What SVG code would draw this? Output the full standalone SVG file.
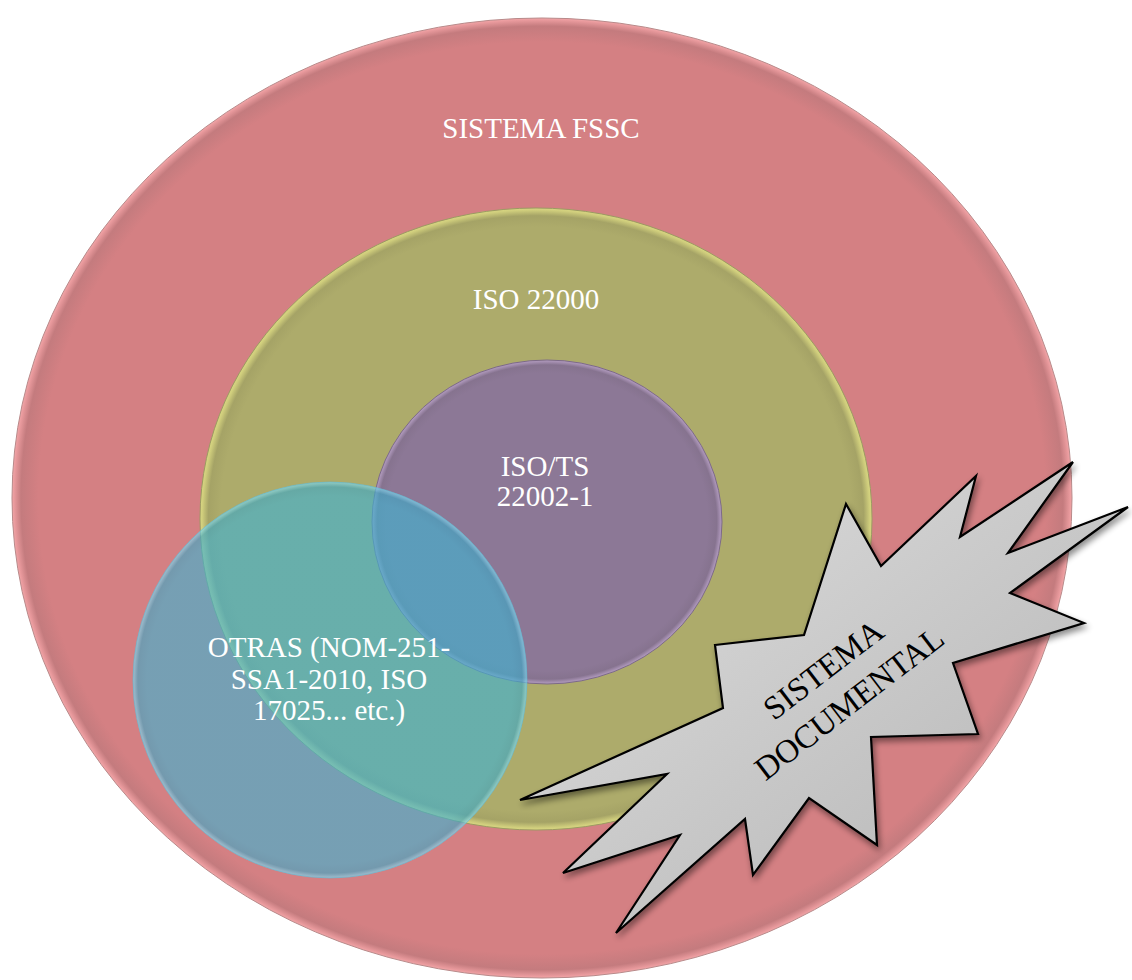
<svg xmlns="http://www.w3.org/2000/svg" width="1132" height="980" viewBox="0 0 1132 980">
<style>
text{font-family:'Liberation Serif','Times New Roman','DejaVu Serif',serif}
.lbl{font-size:29px;fill:#ffffff;text-anchor:middle}
.star-lbl{font-size:33px;fill:#000000;text-anchor:middle}
</style>
<defs>
<radialGradient id="gRed" cx="50%" cy="50%" r="50%">
<stop offset="0" stop-color="#d48083"/>
<stop offset="0.95" stop-color="#d48083"/>
<stop offset="0.983" stop-color="#c47b7e"/>
<stop offset="0.996" stop-color="#e99a9d"/>
<stop offset="1" stop-color="#f3a7a9"/>
</radialGradient>
<radialGradient id="gOlive" cx="50%" cy="50%" r="50%">
<stop offset="0" stop-color="#adab6b"/>
<stop offset="0.94" stop-color="#adab6b"/>
<stop offset="0.975" stop-color="#a5a366"/>
<stop offset="0.993" stop-color="#cfcd7c"/>
<stop offset="1" stop-color="#d9d782"/>
</radialGradient>
<radialGradient id="gPurple" cx="50%" cy="50%" r="50%">
<stop offset="0" stop-color="#8c7896"/>
<stop offset="0.92" stop-color="#8c7896"/>
<stop offset="0.97" stop-color="#86738f"/>
<stop offset="0.99" stop-color="#a690b2"/>
<stop offset="1" stop-color="#b39dbf"/>
</radialGradient>
<radialGradient id="gCyan" cx="50%" cy="50%" r="50%">
<stop offset="0" stop-color="#41b1cf"/>
<stop offset="0.93" stop-color="#41b1cf"/>
<stop offset="0.975" stop-color="#3da8c6"/>
<stop offset="0.993" stop-color="#6fd0ea"/>
<stop offset="1" stop-color="#86dcf0"/>
</radialGradient>
<linearGradient id="gStar" x1="0" y1="0" x2="1" y2="1">
<stop offset="0" stop-color="#e0e0e0"/>
<stop offset="1" stop-color="#b2b2b2"/>
</linearGradient>
<filter id="shadow" x="-10%" y="-10%" width="125%" height="125%">
<feGaussianBlur in="SourceAlpha" stdDeviation="3"/>
<feOffset dx="2" dy="4" result="b"/>
<feComponentTransfer><feFuncA type="linear" slope="0.45"/></feComponentTransfer>
<feMerge><feMergeNode/><feMergeNode in="SourceGraphic"/></feMerge>
</filter>
</defs>
<rect width="1132" height="980" fill="#ffffff"/>
<g id="sistema-fssc">
<ellipse cx="542" cy="498" rx="530" ry="480" fill="url(#gRed)" stroke="#b88a8a" stroke-width="1"/>
<text class="lbl" x="541" y="138" font-family="Liberation Serif, serif">SISTEMA FSSC</text>
</g>
<g id="iso-22000">
<ellipse cx="536" cy="519" rx="336" ry="311" fill="url(#gOlive)" stroke="#9c9a62" stroke-width="1"/>
<text class="lbl" x="536" y="309" font-family="Liberation Serif, serif">ISO 22000</text>
</g>
<g id="iso-ts-22002">
<ellipse cx="547" cy="522" rx="175" ry="162" fill="url(#gPurple)" stroke="#7d6a88" stroke-width="1"/>
<text class="lbl" x="545" y="476" font-family="Liberation Serif, serif">ISO/TS</text>
<text class="lbl" x="545" y="506" font-family="Liberation Serif, serif">22002-1</text>
</g>
<g id="otras">
<ellipse cx="330" cy="680" rx="197" ry="198" fill="url(#gCyan)" fill-opacity="0.64" stroke="#5fb8d2" stroke-opacity="0.6" stroke-width="1"/>
<text class="lbl" x="329" y="657" font-family="Liberation Serif, serif">OTRAS (NOM-251-</text>
<text class="lbl" x="329" y="689" font-family="Liberation Serif, serif">SSA1-2010, ISO</text>
<text class="lbl" x="329" y="720" font-family="Liberation Serif, serif">17025... etc.)</text>
</g>
<g id="sistema-documental">
<polygon filter="url(#shadow)" fill="url(#gStar)" stroke="#000000" stroke-width="2.2" stroke-linejoin="miter" points="715,645 804,635 846,504 881,566 976,476 960,537 1073,462 1008,553 1128,507 1010,593 1084,623 953,663 978,734 871,737 877,845 809,798 753,875 745,819 616,933 680,835 563,873 667,774 520,800 723,708"/>
<g transform="translate(836.5,686.5) rotate(-37.5)">
<text class="star-lbl" x="0" y="-10.5" font-family="Liberation Serif, serif">SISTEMA</text>
<text class="star-lbl" x="0" y="32" font-family="Liberation Serif, serif">DOCUMENTAL</text>
</g>
</g>
<g id="connectors"/>
</svg>
